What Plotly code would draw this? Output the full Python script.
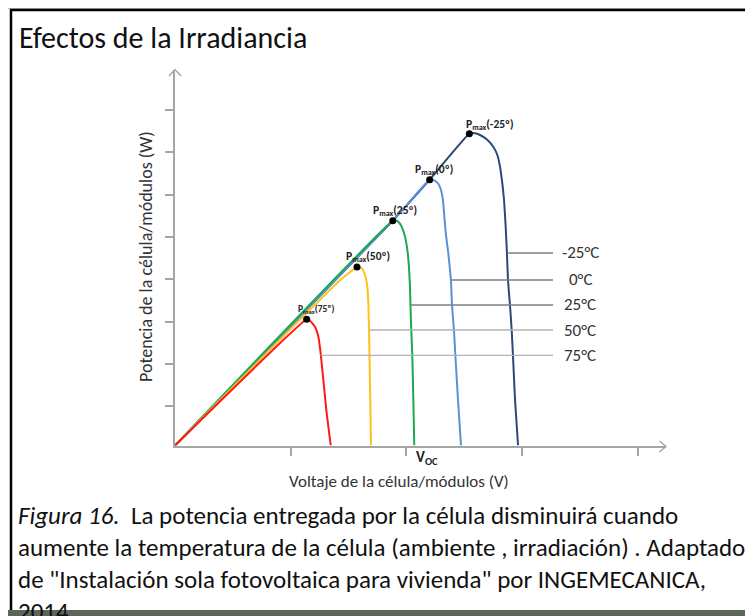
import numpy as np
import plotly.graph_objects as go

# page is 753x616; the html body adds an 8px margin, so the figure itself is 745x608
PAGE_OFF = 8
W, H = 753 - PAGE_OFF, 616 - PAGE_OFF

# ---------------- data (axis units: 1 = one tick interval) ----------------
temps = ["-25°C", "0°C", "25°C", "50°C", "75°C"]
pmax_tags = ["-25º", "0º", "25º", "50º", "75º"]

v_m25 = [0, 1.882, 2.201, 2.544, 2.593, 2.636, 2.694, 2.751, 2.786, 2.809, 2.829, 2.844,
         2.858, 2.869, 2.878, 2.895, 2.910, 2.921, 2.939, 2.965]
p_m25 = [0, 5.314, 6.284, 7.371, 7.381, 7.340, 7.239, 7.064, 6.868, 6.591, 6.199, 5.804,
         5.173, 4.551, 3.913, 3.322, 2.730, 2.139, 1.076, 0]

v_0 = [0, 1.882, 2.201, 2.230, 2.256, 2.277, 2.299, 2.316, 2.328, 2.340, 2.362, 2.385,
       2.394, 2.411, 2.423, 2.446, 2.472]
p_0 = [0, 5.314, 6.284, 6.277, 6.241, 6.182, 6.040, 5.804, 5.409, 5.024, 4.551, 3.913,
       3.322, 2.730, 2.139, 1.076, 0]

v_25 = [0, 1.882, 1.916, 1.940, 1.959, 1.988, 2.008, 2.022, 2.031, 2.035, 2.042,
        2.051, 2.060, 2.068]
p_25 = [0, 5.314, 5.314, 5.260, 5.173, 4.936, 4.622, 4.227, 3.754, 3.322, 2.730,
        2.139, 1.076, 0]

v_50 = [0, 1.409, 1.573, 1.614, 1.642, 1.662, 1.671, 1.677, 1.685, 1.694]
p_50 = [0, 3.865, 4.220, 4.189, 4.031, 3.754, 3.369, 2.730, 1.548, 0]

v_75 = [0, 1.138, 1.167, 1.210, 1.239, 1.259, 1.282, 1.311, 1.346]
p_75 = [0, 2.983, 2.950, 2.809, 2.572, 2.180, 1.548, 0.761, 0]

pmax_index = [3, 2, 1, 2, 1]          # which point of each curve is P_max
label_levels = [4.551, 3.913, 3.322, 2.730, 2.132]   # heights of the temperature leaders

y_ticks = [0.93, 1.93, 2.93, 3.93, 4.93, 5.93, 6.93, 7.93]
x_ticks = [1, 2, 3, 4]

# ---------------- styling ----------------
colors = ["#2c4877", "#5b8fd8", "#1ea84f", "#ffc21a", "#ff1a1a"]
curves_v = [v_m25, v_0, v_25, v_50, v_75]
curves_p = [p_m25, p_0, p_25, p_50, p_75]
FONT = "Carlito, Lato, sans-serif"
AX = "#a6a6a6"


# page-pixel -> paper helpers
def X(px):
    return (px - PAGE_OFF) / W


def Y(py):
    return 1 - (py - PAGE_OFF) / H


x0_px, xend_px = 175, 665.7
y0_px, yend_px = 445.5, 70
x_unit, y_unit = 115.7, 42.3

fig = go.Figure()

for v, p, c in zip(curves_v, curves_p, colors):
    fig.add_trace(go.Scatter(x=v, y=p, mode="lines",
                             line=dict(color=c, width=2, shape="spline", smoothing=0.35),
                             hoverinfo="skip", showlegend=False))

# P_max dots
fig.add_trace(go.Scatter(x=[v[i] for v, i in zip(curves_v, pmax_index)],
                         y=[p[i] for p, i in zip(curves_p, pmax_index)],
                         mode="markers", marker=dict(color="black", size=7),
                         hoverinfo="skip", showlegend=False))

annotations = []
# P_max labels
shifts = [(-5, 0), (-17, 1), (-22, 1), (-13, 1), (-11, 1)]
sizes = [11.5, 11.5, 11.5, 11.5, 9.5]
for v, p, i, tag, (dx, dy), s in zip(curves_v, curves_p, pmax_index, pmax_tags, shifts, sizes):
    annotations.append(dict(x=v[i], y=p[i], xref="x", yref="y",
                            text=f"<b>P<sub>max</sub>({tag})</b>", showarrow=False,
                            xanchor="left", yanchor="bottom", xshift=dx, yshift=dy,
                            font=dict(family=FONT, size=s, color="#222")))

# temperature leaders and labels
lead_end = (553 - x0_px) / x_unit
lead_colors = ["#7f7f7f", "#7f7f7f", "#7f7f7f", "#b3b3b3", "#b3b3b3"]
shapes = []
for v, p, lvl, t, lc in zip(curves_v, curves_p, label_levels, temps, lead_colors):
    k = int(np.argmax(p))
    vf = np.array(v[k:])[::-1]
    pf = np.array(p[k:])[::-1]
    xs = float(np.interp(lvl, pf, vf))
    shapes.append(dict(type="line", xref="x", yref="y", x0=xs, x1=lead_end, y0=lvl, y1=lvl,
                       line=dict(color=lc, width=1.3)))
    annotations.append(dict(x=(580 - x0_px) / x_unit, y=lvl, xref="x", yref="y", text=t,
                            showarrow=False, xanchor="center", yanchor="middle",
                            font=dict(family=FONT, size=17, color="#333")))

# axis arrows (open chevrons)
shapes.append(dict(type="path", xref="paper", yref="paper",
                   path=f"M {X(169)} {Y(76)} L {X(175)} {Y(69.5)} L {X(181)} {Y(76)}",
                   line=dict(color=AX, width=1.5)))
shapes.append(dict(type="path", xref="paper", yref="paper",
                   path=f"M {X(659.5)} {Y(441)} L {X(666)} {Y(446.5)} L {X(659.5)} {Y(452)}",
                   line=dict(color=AX, width=1.5)))

# frame
shapes.append(dict(type="line", xref="paper", yref="paper", x0=0, x1=1, y0=Y(8.5), y1=Y(8.5),
                   line=dict(color="#b8b8b8", width=1)))
shapes.append(dict(type="line", xref="paper", yref="paper", x0=X(10), x1=1, y0=Y(10), y1=Y(10),
                   line=dict(color="black", width=2.5)))
shapes.append(dict(type="line", xref="paper", yref="paper", x0=X(11), x1=X(11), y0=Y(9), y1=0,
                   line=dict(color="black", width=2.5)))
shapes.append(dict(type="rect", xref="paper", yref="paper", x0=0, x1=1, y0=0, y1=Y(610),
                   line=dict(width=0), fillcolor="#5d655b"))

# texts
annotations += [
    dict(x=X(17), y=Y(38), xref="paper", yref="paper", text="Efectos de la Irradiancia",
         showarrow=False, xanchor="left", yanchor="middle",
         font=dict(family=FONT, size=30, color="#111")),
    dict(x=X(146), y=Y(257), xref="paper", yref="paper", text="Potencia de la célula/módulos (W)",
         showarrow=False, textangle=-90, xanchor="center", yanchor="middle",
         font=dict(family=FONT, size=18, color="#333")),
    dict(x=X(399), y=Y(481), xref="paper", yref="paper", text="Voltaje de la célula/módulos (V)",
         showarrow=False, xanchor="center", yanchor="middle",
         font=dict(family=FONT, size=17, color="#333")),
    dict(x=X(427), y=Y(458), xref="paper", yref="paper", text="<b>V<sub>OC</sub></b>",
         showarrow=False, xanchor="center", yanchor="middle",
         font=dict(family=FONT, size=15, color="#222")),
]
caption = [
    "<i>Figura 16.</i>  La potencia entregada por la célula disminuirá cuando",
    "aumente la temperatura de la célula (ambiente , irradiación) . Adaptado",
    "de \"Instalación sola fotovoltaica para vivienda\" por INGEMECANICA,",
    "2014",
]
for i, line in enumerate(caption):
    annotations.append(dict(x=X(16), y=Y(515 + 32.3 * i), xref="paper", yref="paper", text=line,
                            showarrow=False, xanchor="left", yanchor="middle",
                            font=dict(family=FONT, size=25, color="#111")))

fig.update_layout(
    width=W, height=H, autosize=False,
    margin=dict(l=0, r=0, t=0, b=0, pad=0),
    paper_bgcolor="white", plot_bgcolor="rgba(0,0,0,0)",
    shapes=shapes, annotations=annotations, showlegend=False,
    xaxis=dict(domain=[X(x0_px), X(xend_px)], range=[0, (xend_px - x0_px) / x_unit],
               showgrid=False, zeroline=False, showline=True, linecolor=AX, linewidth=1.5,
               ticks="outside", ticklen=9, tickwidth=1.5, tickcolor=AX,
               tickvals=x_ticks, showticklabels=False, fixedrange=True),
    yaxis=dict(domain=[Y(y0_px), Y(yend_px)], range=[0, (y0_px - yend_px) / y_unit],
               showgrid=False, zeroline=False, showline=True, linecolor=AX, linewidth=1.5,
               ticks="outside", ticklen=8, tickwidth=1.5, tickcolor=AX,
               tickvals=y_ticks, showticklabels=False, fixedrange=True),
)

fig.write_html("out.html", config={"displayModeBar": False})
